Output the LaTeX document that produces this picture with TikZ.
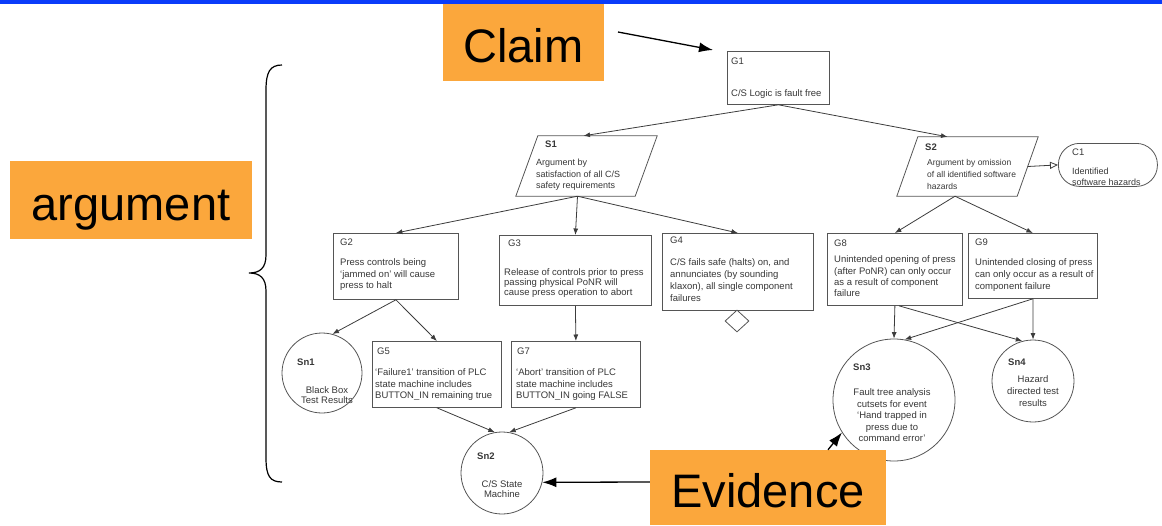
\documentclass[tikz,border=0pt]{standalone}
\usepackage{fontspec}
\setmainfont{Liberation Sans}
\usetikzlibrary{arrows.meta,shapes.geometric,calc}
\definecolor{orng}{RGB}{251,167,60}
\definecolor{topblue}{RGB}{10,60,250}
\definecolor{ink}{RGB}{55,55,55}
\definecolor{edgec}{RGB}{60,60,60}
\definecolor{boxc}{RGB}{85,85,85}
\newcommand{\firstln}{\rule{0pt}{8pt}}
\begin{document}
\begin{tikzpicture}[x=1pt,y=-1pt,
  gbox/.style={draw=boxc, line width=0.8pt, rectangle, anchor=north west, inner sep=0pt},
  tx/.style={font=\fontsize{9.5}{11.5}\selectfont, text=ink, anchor=north west, inner sep=0pt, align=left},
  ctx/.style={tx, anchor=north, align=center},
  bl/.style={tx, font=\fontsize{9.5}{11.5}\selectfont\bfseries},
  arr/.style={draw=edgec, line width=0.8pt, -{Latex[length=6.5pt,width=5pt]}},
  big/.style={fill=orng, font=\fontsize{47}{50}\selectfont, text=black, text height=40pt, text depth=0pt, inner sep=0pt},
  callout/.style={draw=black, line width=1.3pt, -{Latex[length=14pt,width=10pt]}},
  pframe/.style={rectangle, draw=none, inner sep=0pt},
  pline/.style={draw=boxc, line width=0.8pt},
  circ/.style={circle, draw=boxc, line width=0.8pt, inner sep=0pt},
]
\useasboundingbox (0,0) rectangle (1162,525);
\fill[topblue] (0,0) rectangle (1162,3.5);

% ---- GSN boxes ----
\node[gbox, minimum width=102pt, minimum height=53pt] (G1) at (727,51) {};
\node[pframe, minimum width=141pt, minimum height=60pt] (S1) at (586.5,166) {};
\draw[pline] (S1.south west) -- ([xshift=22pt]S1.north west) -- (S1.north east) -- ([xshift=-22pt]S1.south east) -- cycle;
\node[pframe, minimum width=141pt, minimum height=59pt] (S2) at (967.5,166.5) {};
\draw[pline] (S2.south west) -- ([xshift=21pt]S2.north west) -- (S2.north east) -- ([xshift=-21pt]S2.south east) -- cycle;
\node[draw=boxc, line width=0.8pt, rectangle, rounded corners=21pt, anchor=north west, inner sep=0pt, minimum width=99pt, minimum height=43pt] (C1) at (1058,143) {};
\node[gbox, minimum width=125pt, minimum height=66pt] (G2) at (333,233) {};
\node[gbox, minimum width=152pt, minimum height=70pt] (G3) at (499,235) {};
\node[gbox, minimum width=151pt, minimum height=77pt] (G4) at (662,233) {};
\node[gbox, minimum width=135pt, minimum height=72pt] (G8) at (827,233) {};
\node[gbox, minimum width=129pt, minimum height=65pt] (G9) at (968,233) {};
\node[gbox, minimum width=129pt, minimum height=66pt] (G5) at (372,341) {};
\node[gbox, minimum width=129pt, minimum height=66pt] (G7) at (511,341) {};
\node[diamond, draw=boxc, line width=0.8pt, inner sep=0pt, minimum width=24pt, minimum height=22pt] (D4) at (737,321) {};
\node[circ, minimum size=80pt] (Sn1) at (322,373) {};
\node[circ, minimum size=82pt] (Sn2) at (502,473) {};
\node[circ, minimum size=122pt] (Sn3) at (894,400) {};
\node[circ, minimum size=82pt] (Sn4) at (1033,381) {};

% ---- texts ----
\node[tx] (G1l) at (731,56.5) {\firstln G1};
\node[tx] (G1t) at (731,88.5) {\firstln C/S Logic is fault free};
\node[bl] (S1l) at (545,139.5) {\firstln S1};
\node[tx, font=\fontsize{9}{11.5}\selectfont] (S1t) at (536,157.5) {\firstln Argument by\\satisfaction of all C/S\\safety requirements};
\node[bl] (S2l) at (925,142.5) {\firstln S2};
\node[tx, font=\fontsize{8.5}{12}\selectfont] (S2t) at (927,157.5) {\firstln Argument by omission\\of all identified software\\hazards};
\node[tx] (C1l) at (1072,147.5) {\firstln C1};
\node[tx, font=\fontsize{9}{11}\selectfont] (C1t) at (1072,166.5) {\firstln Identified\\software hazards};
\node[tx] (G2l) at (340,237.5) {\firstln G2};
\node[tx] (G2t) at (340,257.5) {\firstln Press controls being\\‘jammed on’ will cause\\press to halt};
\node[tx] (G3l) at (508,238.5) {\firstln G3};
\node[tx, font=\fontsize{9.5}{10}\selectfont] (G3t) at (504,267.5) {\firstln Release of controls prior to press\\passing physical PoNR will\\cause press operation to abort};
\node[tx] (G4l) at (670,235.5) {\firstln G4};
\node[tx, font=\fontsize{9.5}{12}\selectfont] (G4t) at (670,257.5) {\firstln C/S fails safe (halts) on, and\\annunciates (by sounding\\klaxon), all single component\\failures};
\node[tx] (G8l) at (834,238.5) {\firstln G8};
\node[tx, font=\fontsize{9.5}{11.3}\selectfont] (G8t) at (834,254.5) {\firstln Unintended opening of press\\(after PoNR) can only occur\\as a result of component\\failure};
\node[tx] (G9l) at (975,237.5) {\firstln G9};
\node[tx, font=\fontsize{9.5}{12}\selectfont] (G9t) at (975,257.5) {\firstln Unintended closing of press\\can only occur as a result of\\component failure};
\node[tx] (G5l) at (377,346.5) {\firstln G5};
\node[tx] (G5t) at (375,367.5) {\firstln ‘Failure1’ transition of PLC\\state machine includes\\BUTTON\_IN remaining true};
\node[tx] (G7l) at (517,346.5) {\firstln G7};
\node[tx] (G7t) at (516,367.5) {\firstln ‘Abort’ transition of PLC\\state machine includes\\BUTTON\_IN going FALSE};
\node[bl] (Sn1l) at (297,357.5) {\firstln Sn1};
\node[ctx, font=\fontsize{9.5}{10}\selectfont] (Sn1t) at (327,385.5) {\firstln Black Box\\Test Results};
\node[bl] (Sn2l) at (477,451.5) {\firstln Sn2};
\node[ctx, font=\fontsize{9.5}{10}\selectfont] (Sn2t) at (502,479.5) {\firstln C/S State\\Machine};
\node[bl] (Sn3l) at (853,362.5) {\firstln Sn3};
\node[ctx] (Sn3t) at (892,387.5) {\firstln Fault tree analysis\\cutsets for event\\‘Hand trapped in\\press due to\\command error’};
\node[bl] (Sn4l) at (1008,357.5) {\firstln Sn4};
\node[ctx, font=\fontsize{9.5}{12}\selectfont] (Sn4t) at (1033,374.5) {\firstln Hazard\\directed test\\results};

% ---- connectors ----
\draw[arr] (G1.south) -- ([xshift=-3pt]S1.north);
\draw[arr] (G1.south) -- ([xshift=-20pt]S2.north);
\draw[arr] ([xshift=-9pt]S1.south) -- (G2.north);
\draw[arr] ([xshift=-9pt]S1.south) -- (G3.north);
\draw[arr] ([xshift=-9pt]S1.south) -- (G4.north);
\draw[arr] ([xshift=-12.5pt]S2.south) -- (G8.north);
\draw[arr] ([xshift=-12.5pt]S2.south) -- (G9.north);
\draw[draw=edgec, line width=0.8pt, -{Triangle[open,length=8pt,width=7pt]}] ([xshift=-10.5pt]S2.east) -- (C1.west);
\draw[arr] (G2.south) -- (Sn1.75);
\draw[arr] (G2.south) -- (G5.north);
\draw[arr] (G3.south) -- (G7.north);
\draw[arr] (G5.south) -- (Sn2.100);
\draw[arr] (G7.south) -- (Sn2.80);
\draw[arr] (G8.south) -- (Sn3.north);
\draw[arr] ([xshift=4pt]G8.south) -- (Sn4.105);
\draw[arr] (G9.south) -- (Sn3.80);
\draw[arr] (G9.south) -- (Sn4.north);

% ---- brace ----
\draw[black, line width=1.2pt] (282,65) .. controls (270,65) and (266,72) .. (266,90) -- (266,255) .. controls (266,268) and (260,273) .. (249,273) .. controls (260,273) and (266,278) .. (266,291) -- (266,458) .. controls (266,476) and (270,482) .. (282,482);

% ---- callouts ----
\node[big, minimum width=161pt, minimum height=77pt] (claim) at (523.5,42.5) {Claim};
\node[big, minimum width=242pt, minimum height=78pt] (argument) at (131,200) {argument};
\node[big, minimum width=236pt, minimum height=75pt] (evidence) at (768,487.5) {Evidence};
\coordinate (claimtail) at (618,32);
\coordinate (claimtip) at (713,50);
\draw[callout] (claimtail) -- (claimtip);
\draw[callout] ([xshift=60pt]evidence.north) -- (Sn3.212);
\draw[callout] ([yshift=5.5pt]evidence.west) -- (Sn2.-13);
\end{tikzpicture}
\end{document}
